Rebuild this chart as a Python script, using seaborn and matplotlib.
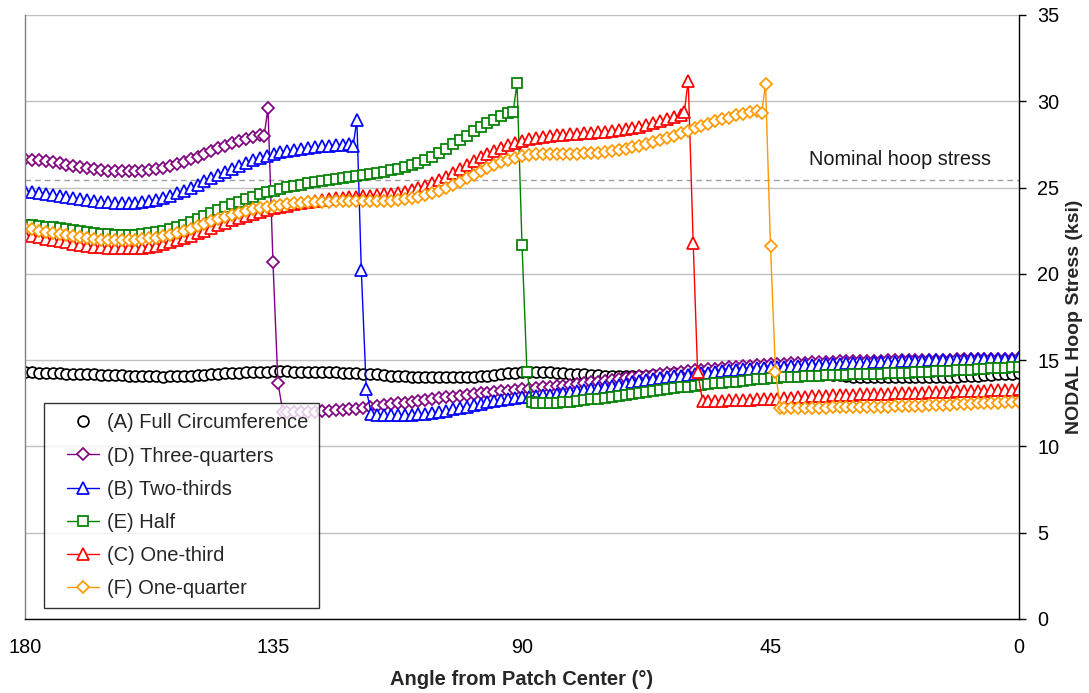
import numpy as np
import matplotlib
matplotlib.use("Agg")
import matplotlib.pyplot as plt
from matplotlib.lines import Line2D
from matplotlib.legend_handler import HandlerLine2D
import seaborn as sns

# ---------------- data ----------------
# node angles (degrees from patch center), regular mesh of 145 nodes
node_angles = np.linspace(180, 0, 145)

labels = ["(A) Full Circumference", "(D) Three-quarters", "(B) Two-thirds",
          "(E) Half", "(C) One-third", "(F) One-quarter"]

full_vals = [14.30, 14.29, 14.28, 14.27, 14.25, 14.24, 14.22, 14.21, 14.20, 14.18,
             14.17, 14.15, 14.14, 14.13, 14.12, 14.11, 14.10, 14.08, 14.07, 14.06,
             14.05, 14.06, 14.07, 14.09, 14.10, 14.12, 14.15, 14.18, 14.20, 14.23,
             14.25, 14.28, 14.30, 14.31, 14.32, 14.34, 14.35, 14.35, 14.35, 14.34,
             14.34, 14.33, 14.33, 14.32, 14.30, 14.29, 14.27, 14.25, 14.23, 14.21,
             14.19, 14.17, 14.14, 14.11, 14.08, 14.06, 14.04, 14.03, 14.02, 14.01,
             14.00, 14.00, 14.00, 14.01, 14.03, 14.05, 14.08, 14.11, 14.15, 14.19,
             14.23, 14.27, 14.30, 14.30, 14.30, 14.30, 14.30, 14.28, 14.25, 14.22,
             14.20, 14.17, 14.15, 14.12, 14.10, 14.09, 14.09, 14.09, 14.09, 14.10,
             14.11, 14.13, 14.16, 14.20, 14.24, 14.28, 14.31, 14.34, 14.36, 14.38,
             14.40, 14.42, 14.43, 14.44, 14.45, 14.45, 14.44, 14.42, 14.40, 14.38,
             14.35, 14.33, 14.30, 14.27, 14.24, 14.21, 14.18, 14.15, 14.12, 14.08,
             14.05, 14.04, 14.03, 14.02, 14.01, 14.00, 14.00, 14.00, 14.00, 14.00,
             14.00, 14.01, 14.02, 14.03, 14.04, 14.05, 14.06, 14.08, 14.10, 14.12,
             14.15, 14.17, 14.20, 14.22, 14.25]

# (D) Three-quarters
tq_hi = [26.65, 26.61, 26.57, 26.52, 26.46, 26.40, 26.33, 26.26, 26.19, 26.12,
         26.06, 26.01, 25.97, 25.95, 25.94, 25.94, 25.95, 25.98, 26.02, 26.08,
         26.16, 26.25, 26.36, 26.49, 26.63, 26.79, 26.95, 27.11, 27.27, 27.43,
         27.58, 27.71, 27.83, 27.94, 28.04]
tq_jump_ang = [136.7, 136.0, 135.1, 134.2, 133.3]
tq_jump_val = [28.0, 29.6, 20.7, 13.7, 12.0]
tq_lo = [12.00, 12.00, 12.00, 12.01, 12.02, 12.04, 12.06, 12.09, 12.12, 12.15,
         12.19, 12.24, 12.29, 12.34, 12.39, 12.44, 12.49, 12.54, 12.59, 12.64,
         12.69, 12.74, 12.79, 12.84, 12.89, 12.94, 12.99, 13.03, 13.07, 13.11,
         13.15, 13.19, 13.23, 13.27, 13.30, 13.34, 13.38, 13.42, 13.45, 13.49,
         13.53, 13.57, 13.61, 13.66, 13.71, 13.76, 13.81, 13.86, 13.91, 13.96,
         14.01, 14.06, 14.11, 14.16, 14.20, 14.24, 14.28, 14.32, 14.36, 14.40,
         14.44, 14.48, 14.51, 14.55, 14.59, 14.62, 14.65, 14.68, 14.70, 14.73,
         14.75, 14.78, 14.80, 14.83, 14.85, 14.86, 14.88, 14.89, 14.90, 14.91,
         14.93, 14.94, 14.95, 14.96, 14.96, 14.97, 14.97, 14.98, 14.98, 14.99,
         15.00, 15.01, 15.01, 15.02, 15.02, 15.03, 15.03, 15.04, 15.05, 15.06,
         15.06, 15.07, 15.07, 15.08, 15.08, 15.09, 15.10]

# (B) Two-thirds
tt_hi = [24.80, 24.75, 24.69, 24.63, 24.57, 24.51, 24.45, 24.39, 24.33, 24.27,
         24.22, 24.18, 24.14, 24.11, 24.10, 24.10, 24.12, 24.16, 24.22, 24.30,
         24.40, 24.52, 24.66, 24.82, 24.99, 25.17, 25.36, 25.55, 25.74, 25.92,
         26.10, 26.27, 26.43, 26.58, 26.71, 26.83, 26.94, 27.04, 27.12, 27.19,
         27.25, 27.30, 27.34, 27.38, 27.42, 27.45, 27.48, 27.50]
tt_jump_ang = [120.6, 119.9, 119.1, 118.2, 117.3]
tt_jump_val = [27.4, 28.9, 20.2, 13.3, 11.9]
tt_lo = [11.85, 11.82, 11.80, 11.80, 11.81, 11.83, 11.86, 11.90, 11.95, 12.01,
         12.08, 12.15, 12.23, 12.31, 12.39, 12.47, 12.55, 12.62, 12.68, 12.74,
         12.79, 12.84, 12.88, 12.92, 12.96, 13.00, 13.05, 13.10, 13.15, 13.20,
         13.26, 13.32, 13.38, 13.45, 13.51, 13.58, 13.64, 13.71, 13.77, 13.83,
         13.89, 13.95, 14.01, 14.06, 14.11, 14.16, 14.20, 14.24, 14.28, 14.32,
         14.36, 14.40, 14.43, 14.47, 14.50, 14.53, 14.56, 14.58, 14.61, 14.63,
         14.65, 14.67, 14.69, 14.71, 14.73, 14.75, 14.77, 14.79, 14.81, 14.83,
         14.85, 14.86, 14.88, 14.89, 14.91, 14.92, 14.93, 14.95, 14.96, 14.97,
         14.98, 14.99, 15.00, 15.01, 15.02, 15.03, 15.04, 15.05, 15.06, 15.07,
         15.08, 15.08, 15.09, 15.10]

# (E) Half
hf_hi = [22.85, 22.82, 22.78, 22.74, 22.69, 22.64, 22.58, 22.52, 22.46, 22.41,
         22.37, 22.33, 22.30, 22.28, 22.27, 22.27, 22.28, 22.31, 22.36, 22.42,
         22.50, 22.60, 22.72, 22.86, 23.01, 23.17, 23.34, 23.51, 23.68, 23.85,
         24.02, 24.18, 24.33, 24.47, 24.60, 24.72, 24.83, 24.93, 25.02, 25.10,
         25.17, 25.24, 25.30, 25.36, 25.42, 25.48, 25.54, 25.60, 25.66, 25.72,
         25.78, 25.84, 25.91, 25.99, 26.08, 26.18, 26.28, 26.42, 26.60, 26.80,
         27.02, 27.25, 27.50, 27.75, 28.00, 28.25, 28.50, 28.72, 28.93, 29.12,
         29.30]
hf_jump_ang = [91.6, 90.9, 90.0, 89.1, 88.2]
hf_jump_val = [29.4, 31.05, 21.7, 14.3, 12.55]
hf_lo = [12.50, 12.49, 12.50, 12.52, 12.55, 12.58, 12.62, 12.67, 12.72, 12.77,
         12.83, 12.88, 12.94, 12.99, 13.05, 13.10, 13.16, 13.21, 13.27, 13.32,
         13.37, 13.42, 13.47, 13.52, 13.56, 13.61, 13.65, 13.69, 13.73, 13.76,
         13.80, 13.84, 13.88, 13.91, 13.95, 13.98, 14.00, 14.03, 14.05, 14.07,
         14.09, 14.10, 14.12, 14.13, 14.14, 14.16, 14.17, 14.18, 14.19, 14.20,
         14.22, 14.23, 14.25, 14.26, 14.28, 14.30, 14.31, 14.33, 14.35, 14.37,
         14.39, 14.41, 14.43, 14.45, 14.47, 14.50, 14.52, 14.54, 14.56, 14.58,
         14.60]

# (C) One-third
ot_hi = [22.25, 22.18, 22.11, 22.04, 21.96, 21.89, 21.82, 21.75, 21.68, 21.62,
         21.57, 21.53, 21.50, 21.48, 21.47, 21.47, 21.49, 21.52, 21.57, 21.64,
         21.72, 21.82, 21.94, 22.07, 22.21, 22.36, 22.51, 22.66, 22.81, 22.96,
         23.10, 23.23, 23.36, 23.48, 23.59, 23.69, 23.79, 23.88, 23.96, 24.04,
         24.11, 24.17, 24.23, 24.28, 24.33, 24.37, 24.41, 24.44, 24.47, 24.50,
         24.53, 24.56, 24.60, 24.64, 24.69, 24.76, 24.85, 24.97, 25.10, 25.25,
         25.42, 25.62, 25.84, 26.07, 26.30, 26.53, 26.75, 26.95, 27.13, 27.30,
         27.45, 27.58, 27.69, 27.79, 27.87, 27.94, 27.99, 28.03, 28.06, 28.09,
         28.11, 28.14, 28.17, 28.20, 28.23, 28.27, 28.32, 28.38, 28.45, 28.53,
         28.62, 28.72, 28.83, 28.95, 29.08, 29.22]
ot_jump_ang = [60.6, 59.9, 59.0, 58.2, 57.3]
ot_jump_val = [29.4, 31.2, 21.8, 14.3, 12.65]
ot_lo = [12.65, 12.66, 12.66, 12.67, 12.68, 12.70, 12.71, 12.72, 12.73, 12.75,
         12.77, 12.80, 12.82, 12.85, 12.87, 12.90, 12.92, 12.95, 12.96, 12.97,
         12.99, 13.00, 13.01, 13.02, 13.04, 13.05, 13.06, 13.07, 13.09, 13.10,
         13.11, 13.12, 13.14, 13.15, 13.16, 13.17, 13.19, 13.20, 13.21, 13.22,
         13.24, 13.25, 13.26, 13.27, 13.29, 13.30]

# (F) One-quarter
oq_hi = [22.65, 22.58, 22.51, 22.44, 22.37, 22.30, 22.23, 22.17, 22.11, 22.06,
         22.02, 21.99, 21.97, 21.96, 21.95, 21.96, 21.98, 22.01, 22.05, 22.10,
         22.17, 22.26, 22.37, 22.49, 22.62, 22.76, 22.90, 23.04, 23.18, 23.31,
         23.43, 23.54, 23.64, 23.73, 23.81, 23.88, 23.94, 23.99, 24.04, 24.08,
         24.11, 24.14, 24.16, 24.18, 24.19, 24.20, 24.20, 24.20, 24.20, 24.20,
         24.20, 24.21, 24.22, 24.24, 24.27, 24.31, 24.37, 24.45, 24.55, 24.67,
         24.81, 24.97, 25.15, 25.34, 25.54, 25.74, 25.94, 26.13, 26.31, 26.47,
         26.61, 26.73, 26.82, 26.88, 26.92, 26.94, 26.95, 26.95, 26.95, 26.95,
         26.96, 26.98, 27.00, 27.03, 27.07, 27.12, 27.18, 27.25, 27.33, 27.42,
         27.52, 27.63, 27.75, 27.88, 28.01, 28.15, 28.29, 28.43, 28.57, 28.70,
         28.83, 28.95, 29.06, 29.18, 29.28, 29.36, 29.42]
oq_jump_ang = [46.6, 45.9, 45.0, 44.1, 43.2]
oq_jump_val = [29.3, 31.0, 21.6, 14.3, 12.25]
oq_lo = [12.25, 12.25, 12.25, 12.25, 12.25, 12.25, 12.25, 12.26, 12.26, 12.27,
         12.28, 12.28, 12.29, 12.29, 12.30, 12.31, 12.32, 12.34, 12.35, 12.36,
         12.37, 12.39, 12.40, 12.41, 12.42, 12.44, 12.45, 12.47, 12.49, 12.50,
         12.52, 12.54, 12.56, 12.58, 12.60]

nominal_hoop = 25.45
x_ticks = [180, 135, 90, 45, 0]
y_ticks = [0, 5, 10, 15, 20, 25, 30, 35]


def build(hi, jang, jval, lo):
    n = len(node_angles)
    ang = list(node_angles[:len(hi)]) + list(jang) + list(node_angles[n - len(lo):])
    val = list(hi) + list(jval) + list(lo)
    return ang, val


series = [
    (list(node_angles), full_vals),
    build(tq_hi, tq_jump_ang, tq_jump_val, tq_lo),
    build(tt_hi, tt_jump_ang, tt_jump_val, tt_lo),
    build(hf_hi, hf_jump_ang, hf_jump_val, hf_lo),
    build(ot_hi, ot_jump_ang, ot_jump_val, ot_lo),
    build(oq_hi, oq_jump_ang, oq_jump_val, oq_lo),
]
colors = ["black", "#800080", "#0000FF", "#008000", "#FF0000", "#FF9900"]
markers = ["o", "D", "^", "s", "^", "D"]
msizes = [7.8, 6.4, 8.6, 7.4, 8.6, 6.4]

# ---------------- style ----------------
sns.set_style("white")
plt.rcParams["font.family"] = ["Liberation Sans", "DejaVu Sans"]

fig = plt.figure(figsize=(10.89, 6.93), dpi=100)
ax = fig.add_axes([25 / 1089, 1 - 619 / 693, (1019 - 25) / 1089, (619 - 15) / 693])

for y in y_ticks:
    ax.axhline(y, color="#c0c0c0", lw=1.0, zorder=0)
ax.axhline(nominal_hoop, color="#a0a0a0", lw=1.0, ls=(0, (4, 3)), zorder=1)
ax.text(5, nominal_hoop + 1.15, "Nominal hoop stress", ha="right", va="center",
        fontsize=14.3, color="#1a1a1a")

for (ang, val), lab, c, m, ms in zip(series, labels, colors, markers, msizes):
    ls = "none" if lab.startswith("(A)") else "-"
    sns.lineplot(x=ang, y=val, ax=ax, sort=False, estimator=None, label=lab,
                 color=c, marker=m, markersize=ms, markerfacecolor="white",
                 markeredgecolor=c, markeredgewidth=1.25, linewidth=1.0,
                 linestyle=ls)

ax.set_xlim(180, 0)
ax.set_ylim(0, 35)
ax.set_xticks(x_ticks)
ax.set_yticks(y_ticks)
ax.yaxis.tick_right()
ax.yaxis.set_label_position("right")
ax.tick_params(axis="both", direction="out", length=5, width=1, colors="black",
               labelsize=14.3)
ax.tick_params(axis="x", pad=9)
ax.tick_params(axis="y", pad=8)
ax.set_xlabel("Angle from Patch Center (°)", fontsize=14.5, fontweight="bold", labelpad=9)
ax.set_ylabel("NODAL Hoop Stress (ksi)", fontsize=14.0, fontweight="bold", labelpad=5)

ax.spines["top"].set_visible(False)
ax.spines["left"].set_color("#808080")
ax.spines["right"].set_color("black")
ax.spines["bottom"].set_color("black")
for s in ["left", "right", "bottom"]:
    ax.spines[s].set_linewidth(1.0)

leg = ax.legend(loc="upper left", bbox_to_anchor=(0.019, 0.357), borderaxespad=0,
                frameon=True, fancybox=False, edgecolor="black", fontsize=14.5,
                handlelength=2.25, labelspacing=0.7, borderpad=0.5,
                handletextpad=0.4,
                handler_map={Line2D: HandlerLine2D(xpad=0.65)})
leg.get_frame().set_linewidth(1.0)

fig.savefig("out.png", dpi=100)
